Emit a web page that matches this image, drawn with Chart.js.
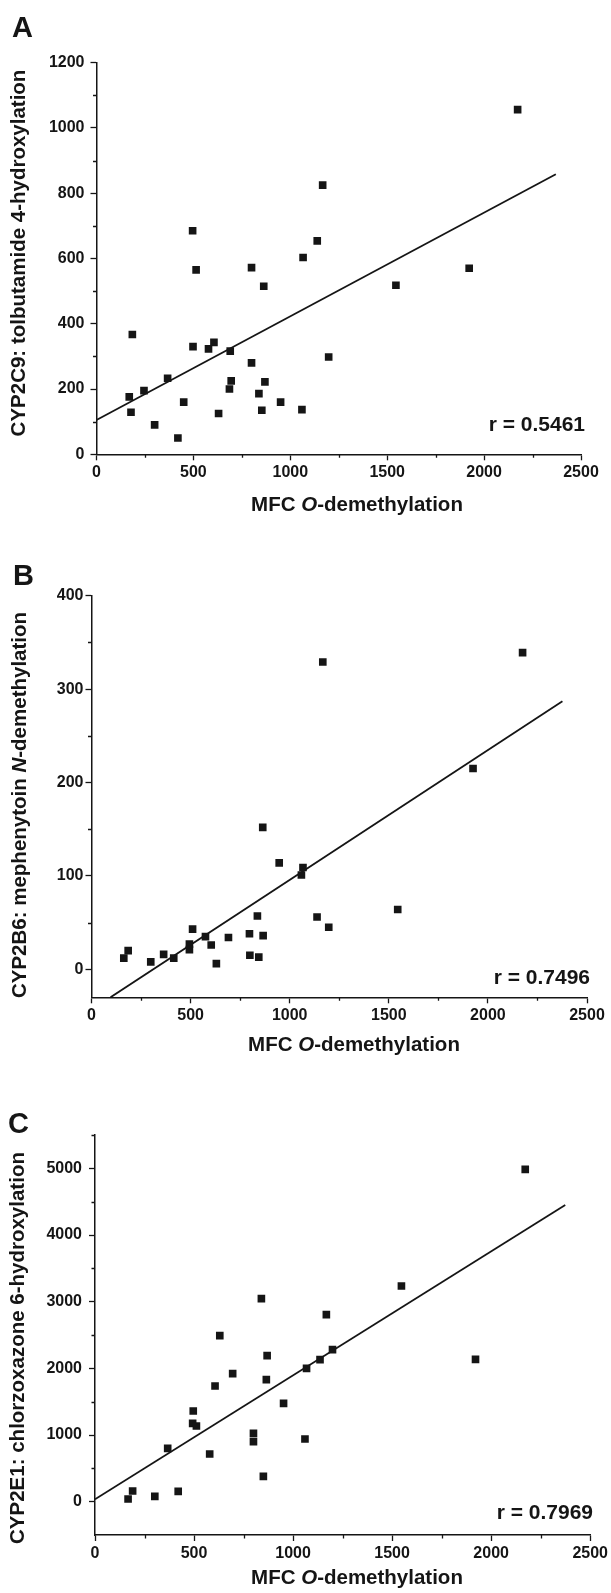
<!DOCTYPE html>
<html><head><meta charset="utf-8">
<script src="https://cdn.jsdelivr.net/npm/chart.js@4.4.1/dist/chart.umd.min.js"></script>
<style>
html,body{margin:0;padding:0;background:#fff;width:611px;height:1593px;overflow:hidden}
canvas{display:block}
</style></head>
<body>
<canvas id="cA" width="611" height="530"></canvas>
<canvas id="cB" width="611" height="530"></canvas>
<canvas id="cC" width="611" height="533"></canvas>
<script>
// ---------- data ----------
const mfcA = [169,178,185,245,300,367,420,450,498,514,578,606,630,686,690,695,800,800,838,853,863,869,950,1060,1066,1198,1545,1923,496,1167,1139,2173];
const tolbutamideA = [176,129,367,195,90,233,50,160,330,565,323,343,125,200,316,225,572,280,186,135,515,222,160,137,603,298,518,570,685,825,654,1056];
const lineA_x = [0,2370];
const lineA_y = [105,858];

const mfcB = [163,185,299,364,415,494,494,510,575,604,630,691,797,799,837,844,864,866,947,1059,1067,1138,1197,1545,1167,2175,1925];
const mephenytoinB = [12,20,8,16,12,27,21,43,35,26,6,34,38,15,57,13,152,36,114,101,109,56,45,64,329,339,215];
const lineB_x = [96,2376];
const lineB_y = [-30,287];

const mfcC = [167,190,302,367,420,493,496,512,579,606,630,695,800,800,850,865,869,952,1060,1068,1136,1199,1921,840,1168,1547,2172];
const chlorzoxazoneC = [40,160,80,800,155,1175,1360,1135,715,1735,2490,1920,1025,900,380,1830,2190,1475,940,2000,2130,2280,2135,3045,2805,3235,4985];
const lineC_x = [0,2374];
const lineC_y = [35,4450];

const xTicks = [0,500,1000,1500,2000,2500];
const xMinor = [250,750,1250,1750,2250];
const yTicksA = [0,200,400,600,800,1000,1200];
const yMinorA = [100,300,500,700,900,1100];
const yTicksB = [0,100,200,300,400];
const yMinorB = [50,150,250,350];
const yTicksC = [0,1000,2000,3000,4000,5000];
const yMinorC = [500,1500,2500,3500,4500,5500];

// ---------- drawing ----------
const FAM = "'Liberation Sans', Arial, Helvetica, sans-serif";
const INK = '#151515';
const XH = 40;

function drawRich(ctx, parts, cx, cy, size, rotate) {
  ctx.save();
  ctx.translate(cx, cy);
  if (rotate) ctx.rotate(-Math.PI / 2);
  let total = 0;
  parts.forEach(p => { ctx.font = (p.i ? 'italic ' : '') + 'bold ' + size + 'px ' + FAM; p.w = ctx.measureText(p.t).width; total += p.w; });
  let x = -total / 2;
  ctx.textBaseline = 'middle'; ctx.textAlign = 'left'; ctx.fillStyle = INK;
  parts.forEach(p => { ctx.font = (p.i ? 'italic ' : '') + 'bold ' + size + 'px ' + FAM; ctx.fillText(p.t, x, 0); x += p.w; });
  ctx.restore();
}

function makePanel(id, cfg) {
  const overlay = {
    id: 'overlay' + id,
    afterDraw(chart) {
      const ctx = chart.ctx;
      const xs = chart.scales.x, ys = chart.scales.y;
      const a = chart.chartArea;
      ctx.save();
      ctx.strokeStyle = INK; ctx.lineWidth = 1.3;
      ctx.beginPath();
      cfg.xMinor.forEach(v => { const px = Math.round(xs.getPixelForValue(v)) + 0.5; ctx.moveTo(px, a.bottom); ctx.lineTo(px, a.bottom + 3.5); });
      cfg.yMinor.forEach(v => { const py = Math.round(ys.getPixelForValue(v)) + 0.5; ctx.moveTo(a.left, py); ctx.lineTo(a.left - 3.5, py); });
      ctx.stroke();
      // panel letter
      ctx.fillStyle = INK; ctx.font = 'bold 29px ' + FAM; ctx.textAlign = 'left'; ctx.textBaseline = 'alphabetic';
      ctx.fillText(cfg.letter, cfg.letterPos[0], cfg.letterPos[1]);
      // r label
      ctx.font = 'bold 21px ' + FAM; ctx.textAlign = 'right'; ctx.textBaseline = 'middle';
      ctx.fillText(cfg.rText, cfg.rPos[0], cfg.rPos[1]);
      ctx.restore();
      drawRich(ctx, cfg.xTitle, cfg.xTitlePos[0], cfg.xTitlePos[1], 20.5, false);
      drawRich(ctx, cfg.yTitle, cfg.yTitlePos[0], cfg.yTitlePos[1], 20.5, true);
    }
  };
  const tickFont = { family: FAM, size: 16, weight: 'bold' };
  new Chart(document.getElementById(id), {
    type: 'scatter',
    data: {
      datasets: [
        { type: 'line', data: cfg.lx.map((v, i) => ({ x: v, y: cfg.ly[i] })), borderColor: INK, borderWidth: 1.8, pointRadius: 0, fill: false, order: 1 },
        { data: cfg.px.map((v, i) => ({ x: v, y: cfg.py[i] })), pointStyle: 'rect', pointRadius: 5.4, backgroundColor: INK, borderWidth: 0, order: 0 }
      ]
    },
    options: {
      responsive: false, animation: false, events: [],
      layout: { padding: { left: 0, top: cfg.area.top, right: 611 - cfg.area.right, bottom: cfg.h - cfg.area.bottom - XH } },
      plugins: { legend: { display: false }, tooltip: { enabled: false } },
      scales: {
        x: {
          type: 'linear', min: 0, max: 2500,
          afterFit: s => { s.height = XH; },
          afterBuildTicks: s => { s.ticks = xTicks.map(v => ({ value: v })); },
          grid: { drawOnChartArea: false, drawTicks: true, tickLength: 6, tickColor: INK, tickWidth: 1.3 },
          border: { display: true, color: INK, width: 1.5 },
          ticks: { color: INK, font: tickFont, padding: 3, maxRotation: 0, autoSkip: false, callback: v => String(v) }
        },
        y: {
          type: 'linear', min: cfg.ymin, max: cfg.ymax,
          afterFit: s => { s.width = cfg.area.left; },
          afterBuildTicks: s => { s.ticks = cfg.yTicks.map(v => ({ value: v })); },
          grid: { drawOnChartArea: false, drawTicks: true, tickLength: 6, tickColor: INK, tickWidth: 1.3 },
          border: { display: true, color: INK, width: 1.5 },
          ticks: { color: INK, font: tickFont, padding: cfg.yPad, autoSkip: false, callback: v => String(v) }
        }
      }
    },
    plugins: [overlay]
  });
}

makePanel('cA', {
  h: 530, area: { left: 96.5, right: 581, top: 62.7, bottom: 454.3 },
  ymin: 0, ymax: 1200, yTicks: yTicksA, yMinor: yMinorA, xMinor: xMinor, yPad: 6,
  px: mfcA, py: tolbutamideA, lx: lineA_x, ly: lineA_y,
  letter: 'A', letterPos: [12, 37], rText: 'r = 0.5461', rPos: [585, 425],
  xTitle: [{ t: 'MFC ' }, { t: 'O', i: true }, { t: '-demethylation' }], xTitlePos: [357, 505],
  yTitle: [{ t: 'CYP2C9: tolbutamide 4-hydroxylation' }], yTitlePos: [19.5, 253]
});
makePanel('cB', {
  h: 530, area: { left: 91.5, right: 587, top: 65.7, bottom: 467.3 },
  ymin: -30, ymax: 400, yTicks: yTicksB, yMinor: yMinorB, xMinor: xMinor, yPad: 2,
  px: mfcB, py: mephenytoinB, lx: lineB_x, ly: lineB_y,
  letter: 'B', letterPos: [13, 55], rText: 'r = 0.7496', rPos: [590, 448],
  xTitle: [{ t: 'MFC ' }, { t: 'O', i: true }, { t: '-demethylation' }], xTitlePos: [354, 515],
  yTitle: [{ t: 'CYP2B6: mephenytoin ' }, { t: 'N', i: true }, { t: '-demethylation' }], yTitlePos: [20, 275]
});
makePanel('cC', {
  h: 533, area: { left: 95, right: 591, top: 75, bottom: 475 },
  ymin: -500, ymax: 5500, yTicks: yTicksC, yMinor: yMinorC, xMinor: xMinor, yPad: 7,
  px: mfcC, py: chlorzoxazoneC, lx: lineC_x, ly: lineC_y,
  letter: 'C', letterPos: [8, 73], rText: 'r = 0.7969', rPos: [593, 453],
  xTitle: [{ t: 'MFC ' }, { t: 'O', i: true }, { t: '-demethylation' }], xTitlePos: [357, 518],
  yTitle: [{ t: 'CYP2E1: chlorzoxazone 6-hydroxylation' }], yTitlePos: [18, 288]
});
</script>
</body></html>
